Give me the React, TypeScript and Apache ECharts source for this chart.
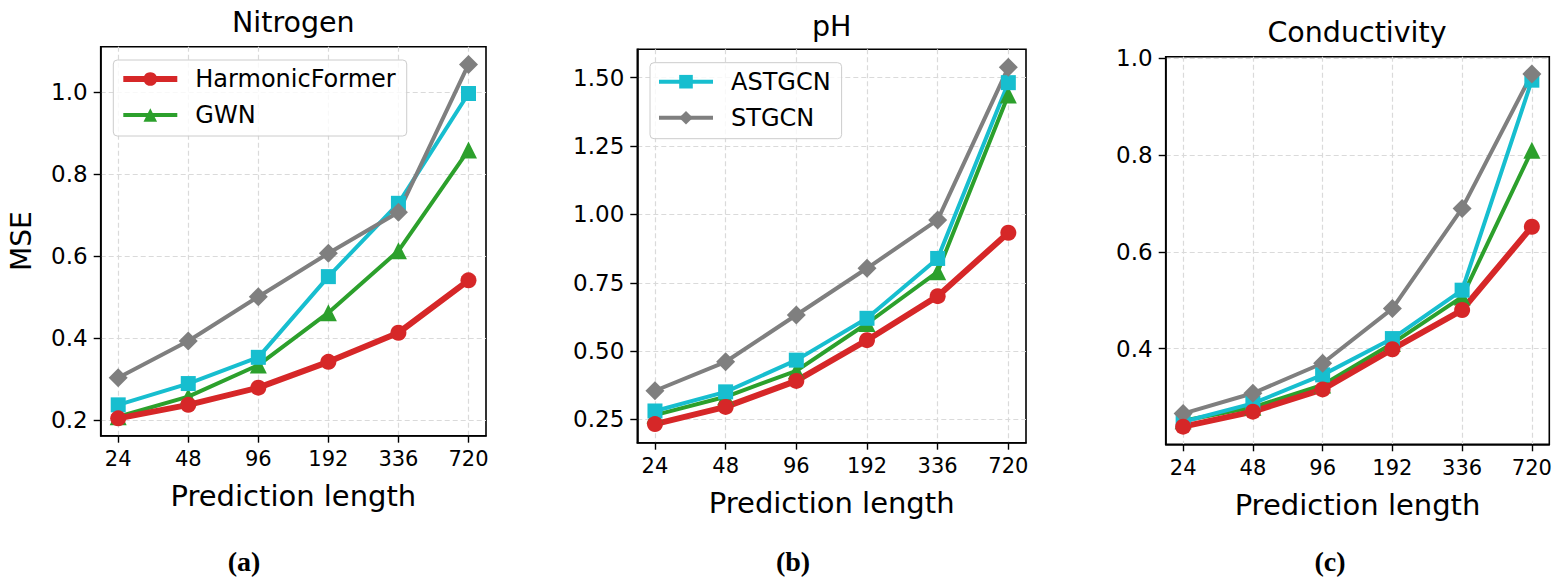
import { useEffect, useRef } from "react";
import * as echarts from "echarts";

// prediction horizons on the x axis
const horizons = ["24", "48", "96", "192", "336", "720"];
const horizonIdx = [0, 1, 2, 3, 4, 5];

// Nitrogen MSE
const nitrogenHarmonic = [0.204, 0.237, 0.279, 0.342, 0.413, 0.541];
const nitrogenGWN = [0.208, 0.257, 0.334, 0.462, 0.613, 0.859];
const nitrogenASTGCN = [0.237, 0.289, 0.353, 0.55, 0.729, 0.997];
const nitrogenSTGCN = [0.303, 0.393, 0.501, 0.607, 0.707, 1.068];

// pH MSE
const phHarmonic = [0.233, 0.296, 0.391, 0.54, 0.701, 0.933];
const phGWN = [0.266, 0.333, 0.428, 0.601, 0.79, 1.437];
const phASTGCN = [0.281, 0.351, 0.467, 0.62, 0.839, 1.482];
const phSTGCN = [0.355, 0.461, 0.632, 0.803, 0.98, 1.538];

// Conductivity MSE
const condHarmonic = [0.239, 0.27, 0.316, 0.399, 0.48, 0.652];
const condGWN = [0.251, 0.279, 0.325, 0.411, 0.507, 0.81];
const condASTGCN = [0.249, 0.287, 0.346, 0.421, 0.521, 0.955];
const condSTGCN = [0.266, 0.308, 0.37, 0.483, 0.69, 0.968];

// y tick labels
const nitrogenTicks = [0.2, 0.4, 0.6, 0.8, 1.0];
const phTicks = [0.25, 0.5, 0.75, 1.0, 1.25, 1.5];
const condTicks = [0.4, 0.6, 0.8, 1.0];

const FONT = "DejaVu Sans";

// drawing order: GWN, ASTGCN, STGCN, then HarmonicFormer on top
const styles: Record<string, any> = {
  GWN: { color: "#2ca02c", symbol: "triangle", size: 17, width: 4 },
  ASTGCN: { color: "#17becf", symbol: "rect", size: 15, width: 4 },
  STGCN: { color: "#7f7f7f", symbol: "diamond", size: 19, width: 4 },
  HarmonicFormer: { color: "#d62728", symbol: "circle", size: 16, width: 6 },
};

const panels = [
  {
    title: "Nitrogen",
    titleX: 293.3,
    titleY: 22.7,
    caption: "(a)",
    captionX: 244,
    grid: { left: 100.7, top: 46.7, width: 385.3, height: 389 },
    yMin: 0.1617,
    yMax: 1.1113,
    ticks: nitrogenTicks,
    digits: 1,
    yName: "MSE",
    values: {
      GWN: nitrogenGWN,
      ASTGCN: nitrogenASTGCN,
      STGCN: nitrogenSTGCN,
      HarmonicFormer: nitrogenHarmonic,
    },
  },
  {
    title: "pH",
    titleX: 831.7,
    titleY: 26.5,
    caption: "(b)",
    captionX: 793,
    grid: { left: 637.3, top: 49.3, width: 388.7, height: 393.4 },
    yMin: 0.165,
    yMax: 1.604,
    ticks: phTicks,
    digits: 2,
    yName: "",
    values: {
      GWN: phGWN,
      ASTGCN: phASTGCN,
      STGCN: phSTGCN,
      HarmonicFormer: phHarmonic,
    },
  },
  {
    title: "Conductivity",
    titleX: 1357,
    titleY: 32,
    caption: "(c)",
    captionX: 1330,
    grid: { left: 1165.7, top: 56.7, width: 383.6, height: 387.6 },
    yMin: 0.2025,
    yMax: 1.0035,
    ticks: condTicks,
    digits: 1,
    yName: "",
    values: {
      GWN: condGWN,
      ASTGCN: condASTGCN,
      STGCN: condSTGCN,
      HarmonicFormer: condHarmonic,
    },
  },
];

const gridLine = { show: true, lineStyle: { color: "#dadada", type: [5, 3], width: 1.2 } };

function legendFor(names: string[], left: number, top: number) {
  return {
    orient: "vertical",
    left,
    top,
    selectedMode: false,
    itemWidth: 54,
    itemHeight: 17,
    itemGap: 12,
    padding: [7, 11, 9, 7],
    borderColor: "#cccccc",
    borderWidth: 1,
    borderRadius: 4,
    backgroundColor: "rgba(255,255,255,0.8)",
    textStyle: { fontFamily: FONT, fontSize: 24, color: "#000", padding: [0, 0, 0, 13] },
    data: names.map((n) => ({ name: n, lineStyle: { width: styles[n].width } })),
  };
}

function App() {
  const chartRef = useRef(null);

  useEffect(() => {
    document.body.style.margin = "0";
    const chart = echarts.init(chartRef.current, null, { renderer: "svg" });

    const grids: any[] = [];
    const xAxes: any[] = [];
    const yAxes: any[] = [];
    const series: any[] = [];
    const texts: any[] = [];

    panels.forEach((p, i) => {
      grids.push({ ...p.grid, show: true, borderColor: "#000", borderWidth: 1.6, containLabel: false });
      xAxes.push({
        type: "value",
        gridIndex: i,
        min: -0.25,
        max: 5.25,
        axisLine: { show: true, onZero: false, lineStyle: { color: "#000", width: 1.6 } },
        axisTick: { show: true, length: 7, customValues: horizonIdx, lineStyle: { color: "#000", width: 1.4 } },
        axisLabel: {
          customValues: horizonIdx,
          formatter: (v: number) => horizons[Math.round(v)] ?? "",
          fontFamily: FONT,
          fontSize: 21,
          color: "#000",
          margin: 13,
        },
        splitLine: { ...gridLine, customValues: horizonIdx },
        name: "Prediction length",
        nameLocation: "middle",
        nameGap: 46,
        nameTextStyle: { fontFamily: FONT, fontSize: 29, color: "#000" },
      });
      yAxes.push({
        type: "value",
        gridIndex: i,
        min: p.yMin,
        max: p.yMax,
        axisLine: { show: true, onZero: false, lineStyle: { color: "#000", width: 1.6 } },
        axisTick: { show: true, length: 7, customValues: p.ticks, lineStyle: { color: "#000", width: 1.4 } },
        axisLabel: {
          customValues: p.ticks,
          formatter: (v: number) => v.toFixed(p.digits),
          fontFamily: FONT,
          fontSize: 23,
          color: "#000",
          margin: 13,
        },
        splitLine: { ...gridLine, customValues: p.ticks },
        name: p.yName,
        nameLocation: "middle",
        nameGap: 65,
        nameRotate: 90,
        nameTextStyle: { fontFamily: FONT, fontSize: 28, color: "#000" },
      });
      Object.entries(p.values).forEach(([name, vals]) => {
        const s = styles[name];
        series.push({
          name,
          type: "line",
          xAxisIndex: i,
          yAxisIndex: i,
          data: vals.map((v, k) => [horizonIdx[k], v]),
          symbol: s.symbol,
          symbolSize: s.size,
          lineStyle: { color: s.color, width: s.width },
          itemStyle: { color: s.color },
          emphasis: { disabled: true },
        });
      });
      texts.push({
        type: "text",
        x: p.titleX,
        y: p.titleY,
        style: {
          text: p.title,
          font: `28.5px "${FONT}"`,
          fill: "#000",
          align: "center",
          verticalAlign: "middle",
          textAlign: "center",
          textVerticalAlign: "middle",
        },
      });
      texts.push({
        type: "text",
        x: p.captionX,
        y: 561,
        style: {
          text: p.caption,
          font: 'bold 28px "Liberation Serif"',
          fill: "#000",
          align: "center",
          verticalAlign: "middle",
          textAlign: "center",
          textVerticalAlign: "middle",
        },
      });
    });

    chart.setOption({
      animation: false,
      backgroundColor: "#fff",
      grid: grids,
      xAxis: xAxes,
      yAxis: yAxes,
      legend: [
        legendFor(["HarmonicFormer", "GWN"], 113.3, 60),
        legendFor(["ASTGCN", "STGCN"], 650, 62.7),
      ],
      series,
      graphic: texts,
    });

    return () => {
      chart.dispose();
    };
  }, []);

  return <div ref={chartRef} style={{ width: "1559px", height: "583px" }}></div>;
}

export default App;
